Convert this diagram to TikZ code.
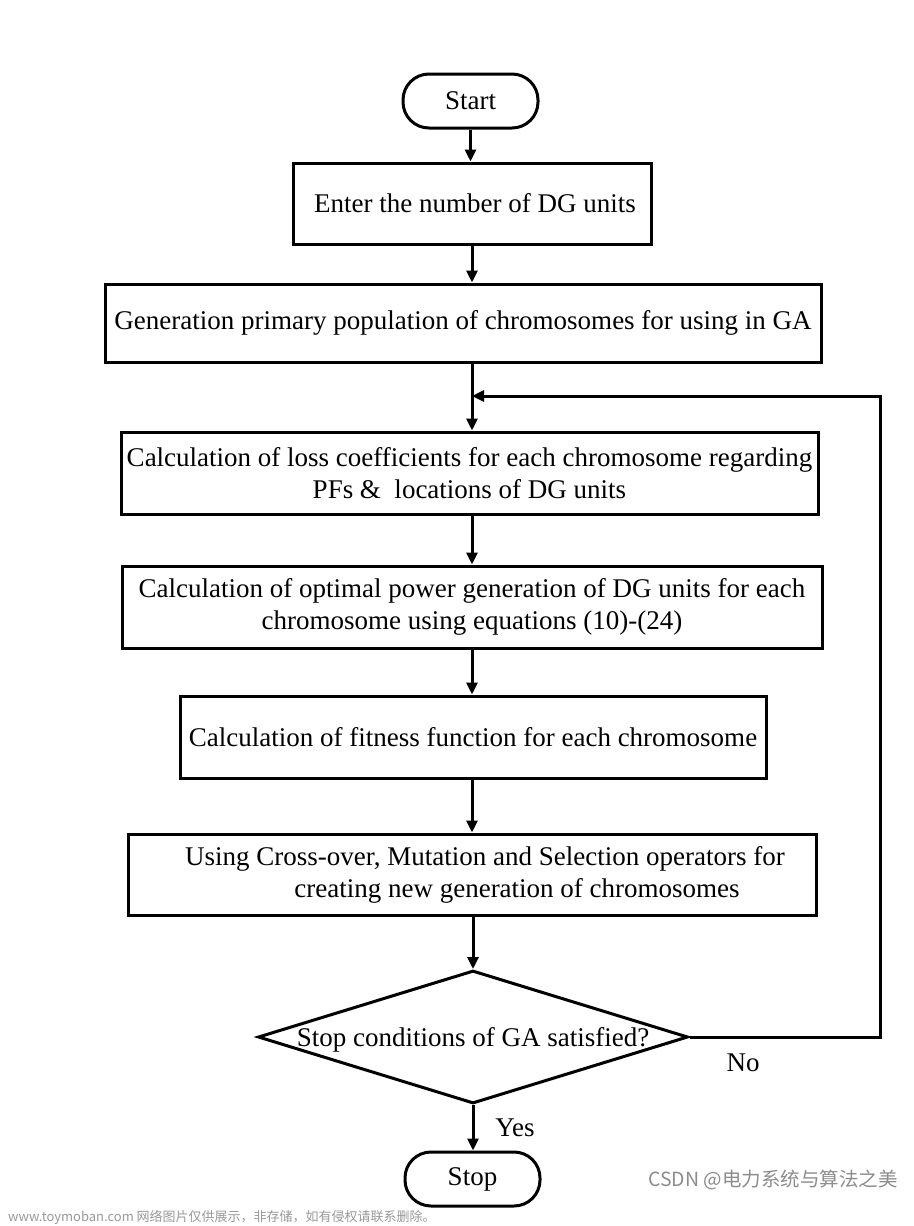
\documentclass[tikz,border=0pt]{standalone}
\usepackage{fontspec}
\setmainfont{Liberation Serif}
\newfontfamily\cjkfont{Noto Sans CJK SC}
\usetikzlibrary{arrows.meta,shapes.geometric}
\begin{document}
\begin{tikzpicture}[x=1pt,y=-1pt,
  every node/.style={inner sep=0pt},
  txt/.style={font=\fontsize{27}{32}\selectfont, align=center},
  procbox/.style={draw, line width=3pt, txt},
  term/.style={draw, line width=3pt, rounded corners=26pt, minimum width=135pt, minimum height=54pt, txt},
  arr/.style={line width=3pt, -{Triangle[length=12pt,width=11pt]}},
  ln/.style={line width=3pt},
  wm/.style={text=black!45}
]
\path[use as bounding box, fill=white] (0,0) rectangle (913,1226);

\node[term] (start) at (470.5,101) {Start};
\node[procbox, minimum width=358pt, minimum height=81pt] (b1) at (472,203.5) {\hspace*{6pt}Enter the number of DG units};
\node[procbox, minimum width=716pt, minimum height=78pt] (b2) at (463,323) {Generation primary population of chromosomes for using in GA};
\node[procbox, minimum width=697pt, minimum height=82pt] (b3) at (469.5,473) {Calculation of loss coefficients for each chromosome regarding\\PFs \&\ \ locations of DG units};
\node[procbox, minimum width=700pt, minimum height=82pt] (b4) at (472,607) {Calculation of optimal power generation of DG units for each\\chromosome using equations (10)-(24)};
\node[procbox, minimum width=586pt, minimum height=82pt] (b5) at (473,737) {Calculation of fitness function for each chromosome};
\node[procbox, minimum width=688pt, minimum height=81pt] (b6) at (472,874.5) {\hspace*{26pt}Using Cross-over, Mutation and Selection operators for\\\hspace*{90pt}creating new generation of chromosomes};
\node[diamond, draw, line width=3pt, minimum width=430pt, minimum height=133pt] (dec) at (473,1037) {};
\node[txt] (dectext) at (473,1040) {Stop conditions of GA satisfied?};
\node[term] (stop) at (472.5,1179) {Stop};

\node[txt] (no) at (743,1063) {No};
\node[txt] (yes) at (515,1128) {Yes};

\coordinate (join) at (472,396);
\coordinate (corner) at (880,396);
\coordinate (right) at (880,1037);

\draw[arr] (start.south) -- (start.south |- b1.north);
\draw[arr] (b1.south) -- (b1.south |- b2.north);
\draw[ln] (b2.south -| join) -- (join);
\draw[arr] (join) -- (join |- b3.north);
\draw[arr] (b3.south -| join) -- (join |- b4.north);
\draw[arr] (b4.south -| join) -- (join |- b5.north);
\draw[arr] (b5.south -| join) -- (join |- b6.north);
\draw[arr] (b6.south -| dec.north) -- (dec.north);
\draw[arr] (dec.south) -- (dec.south |- stop.north);
\draw[arr] (dec.east) -- (right) -- (corner) -- (join);

\node[wm, font=\cjkfont\fontsize{19.5}{24}\selectfont, anchor=east] (csdn) at (898,1180) {CSDN @电力系统与算法之美};
\node[wm, font=\cjkfont\fontsize{13}{15}\selectfont, anchor=west, text=black!40] (site) at (8,1217) {www.toymoban.com 网络图片仅供展示，非存储，如有侵权请联系删除。};
\end{tikzpicture}
\end{document}
